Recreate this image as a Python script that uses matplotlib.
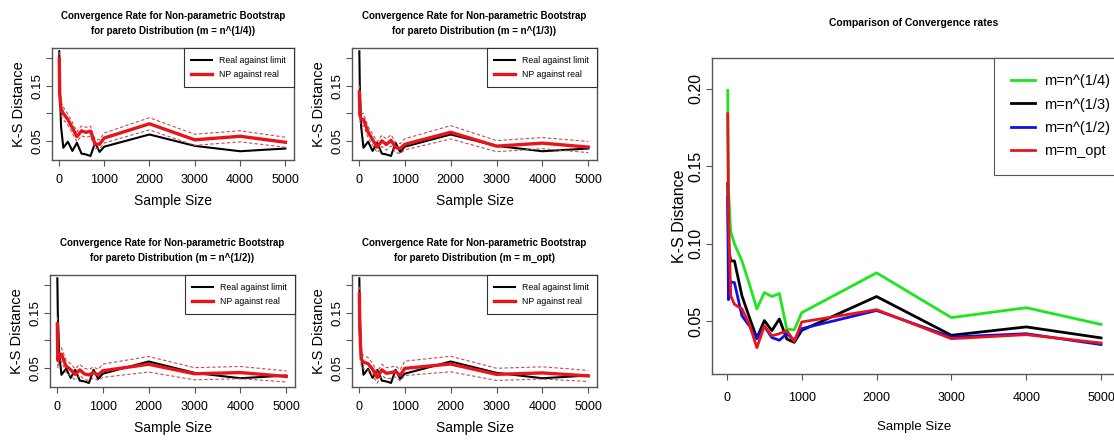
import matplotlib

matplotlib.use("Agg")
import matplotlib.pyplot as plt

# sample sizes
sample_size = [10, 20, 50, 100, 200, 300, 400, 500, 600, 700, 800, 900, 1000, 2000, 3000, 4000, 5000]

# real distribution against the limit (same in every small panel)
real_vs_limit = [0.212, 0.150, 0.076, 0.038, 0.049, 0.0324, 0.047, 0.0276, 0.026, 0.0233,
                 0.047, 0.0306, 0.040, 0.062, 0.0415, 0.0318, 0.0367]

# NP bootstrap against real, one series per resample size m
np_quarter = [0.199, 0.135, 0.108, 0.100, 0.089, 0.074, 0.058, 0.0686, 0.066, 0.068,
              0.045, 0.0445, 0.0556, 0.0813, 0.0524, 0.0588, 0.048]
np_third = [0.139, 0.098, 0.089, 0.089, 0.0665, 0.0525, 0.0392, 0.0505, 0.044, 0.0515,
            0.0386, 0.0364, 0.0442, 0.066, 0.041, 0.0464, 0.0393]
np_half = [0.130, 0.064, 0.0755, 0.075, 0.0536, 0.047, 0.0388, 0.0468, 0.0395, 0.0378,
           0.042, 0.0378, 0.0453, 0.057, 0.0399, 0.042, 0.035]
np_opt = [0.184, 0.120, 0.0665, 0.061, 0.058, 0.048, 0.033, 0.047, 0.0407, 0.042,
          0.044, 0.037, 0.0496, 0.0575, 0.0388, 0.0414, 0.036]

# half widths of the dashed bands around the NP curves
band_quarter = [0.012, 0.012, 0.012, 0.011, 0.010, 0.010, 0.009, 0.009, 0.009, 0.009,
                0.008, 0.008, 0.009, 0.011, 0.010, 0.010, 0.009]
band_third = [0.012, 0.012, 0.011, 0.011, 0.010, 0.010, 0.010, 0.010, 0.010, 0.010,
              0.009, 0.009, 0.010, 0.012, 0.010, 0.010, 0.010]
band_half = [0.013, 0.013, 0.012, 0.012, 0.011, 0.011, 0.010, 0.010, 0.010, 0.010,
             0.010, 0.010, 0.012, 0.014, 0.011, 0.011, 0.010]
band_opt = [0.013, 0.013, 0.012, 0.012, 0.011, 0.011, 0.010, 0.010, 0.010, 0.010,
            0.010, 0.010, 0.013, 0.014, 0.011, 0.011, 0.010]

panel_labels = ["m = n^(1/4)", "m = n^(1/3)", "m = n^(1/2)", "m = m_opt"]
legend_labels = ["m=n^(1/4)", "m=n^(1/3)", "m=n^(1/2)", "m=m_opt"]
x_ticks = [0, 1000, 2000, 3000, 4000, 5000]

FONT = ["Liberation Sans", "DejaVu Sans"]
RED = "#e8141c"
BAND = "#c0504d"
FRAME = "#555555"

W, H = 1114, 441


def rect(left, right, top, bottom):
    return [left / W, 1 - bottom / H, (right - left) / W, (bottom - top) / H]


def style_axes(ax, ylabels, pad, ysize):
    ax.set_xlim(-150, 5190)
    ax.set_ylim(0.016, 0.218)
    ax.set_xticks(x_ticks)
    ax.set_xticklabels([str(t) for t in x_ticks], fontfamily=FONT, fontsize=9)
    ax.set_yticks([0.05, 0.10, 0.15, 0.20])
    ax.set_yticklabels(ylabels, rotation=90, va="center", fontfamily=FONT, fontsize=ysize)
    ax.tick_params(axis="x", direction="out", length=4, width=0.8, color=FRAME, pad=pad)
    ax.tick_params(axis="y", direction="out", length=4, width=0.8, color=FRAME, pad=2)
    for sp in ax.spines.values():
        sp.set_color(FRAME)
        sp.set_linewidth(1.0)


fig = plt.figure(figsize=(W / 100, H / 100), dpi=100)

panels = [
    (rect(52, 294, 48, 160), np_quarter, band_quarter),
    (rect(352, 597, 48, 160), np_third, band_third),
    (rect(50, 295, 275, 387), np_half, band_half),
    (rect(352, 597, 275, 387), np_opt, band_opt),
]

for (r, series, band), lab in zip(panels, panel_labels):
    ax = fig.add_axes(r)
    upper = [v + b for v, b in zip(series, band)]
    lower = [v - b for v, b in zip(series, band)]
    ax.plot(sample_size, real_vs_limit, color="black", lw=1.5, label="Real against limit")
    ax.plot(sample_size, upper, color=BAND, lw=0.8, ls=(0, (3, 2)))
    ax.plot(sample_size, lower, color=BAND, lw=0.8, ls=(0, (3, 2)))
    ax.plot(sample_size, series, color=RED, lw=2.4, label="NP against real")
    style_axes(ax, ["0.05", "", "0.15", ""], 6, 9.5)
    ax.set_title("Convergence Rate for Non-parametric Bootstrap\nfor pareto Distribution (" + lab + ")",
                 fontfamily=FONT, fontweight="bold", fontsize=7, linespacing=1.7, pad=10)
    ax.set_xlabel("Sample Size", fontfamily=FONT, fontsize=10, labelpad=6)
    ax.set_ylabel("K-S Distance", fontfamily=FONT, fontsize=10.5, labelpad=4)
    leg = ax.legend(loc="upper right", borderaxespad=0, fancybox=False, framealpha=1,
                    prop={"family": FONT, "size": 6.3}, handlelength=2.4, borderpad=0.9,
                    labelspacing=0.6, handletextpad=0.8)
    leg.get_frame().set_edgecolor("#333333")
    leg.get_frame().set_linewidth(0.8)

# comparison panel on the right
ax = fig.add_axes(rect(712, 1116, 58, 374))
colors = ["#1ee61e", "black", "#1010e6", RED]
for series, c, lab in zip([np_quarter, np_third, np_half, np_opt], colors, legend_labels):
    ax.plot(sample_size, series, color=c, lw=2.0, label=lab)
style_axes(ax, ["0.05", "0.10", "0.15", "0.20"], 9, 11.5)
ax.set_xlim(-200, 5200)
ax.set_ylim(0.016, 0.22)
ax.set_title("Comparison of Convergence rates", fontfamily=FONT, fontweight="bold",
             fontsize=7.5, pad=23)
ax.set_xlabel("Sample Size", fontfamily=FONT, fontsize=9.5, labelpad=12)
ax.set_ylabel("K-S Distance", fontfamily=FONT, fontsize=11.5, labelpad=1)
leg = ax.legend(loc="upper right", bbox_to_anchor=(1.025, 1.0), borderaxespad=0, fancybox=False,
                framealpha=1, prop={"family": FONT, "size": 10.5}, handlelength=1.7,
                borderpad=1.1, labelspacing=0.65, handletextpad=0.6)
leg.get_frame().set_edgecolor("#555555")
leg.get_frame().set_linewidth(0.8)

fig.savefig("out.png", dpi=100)
